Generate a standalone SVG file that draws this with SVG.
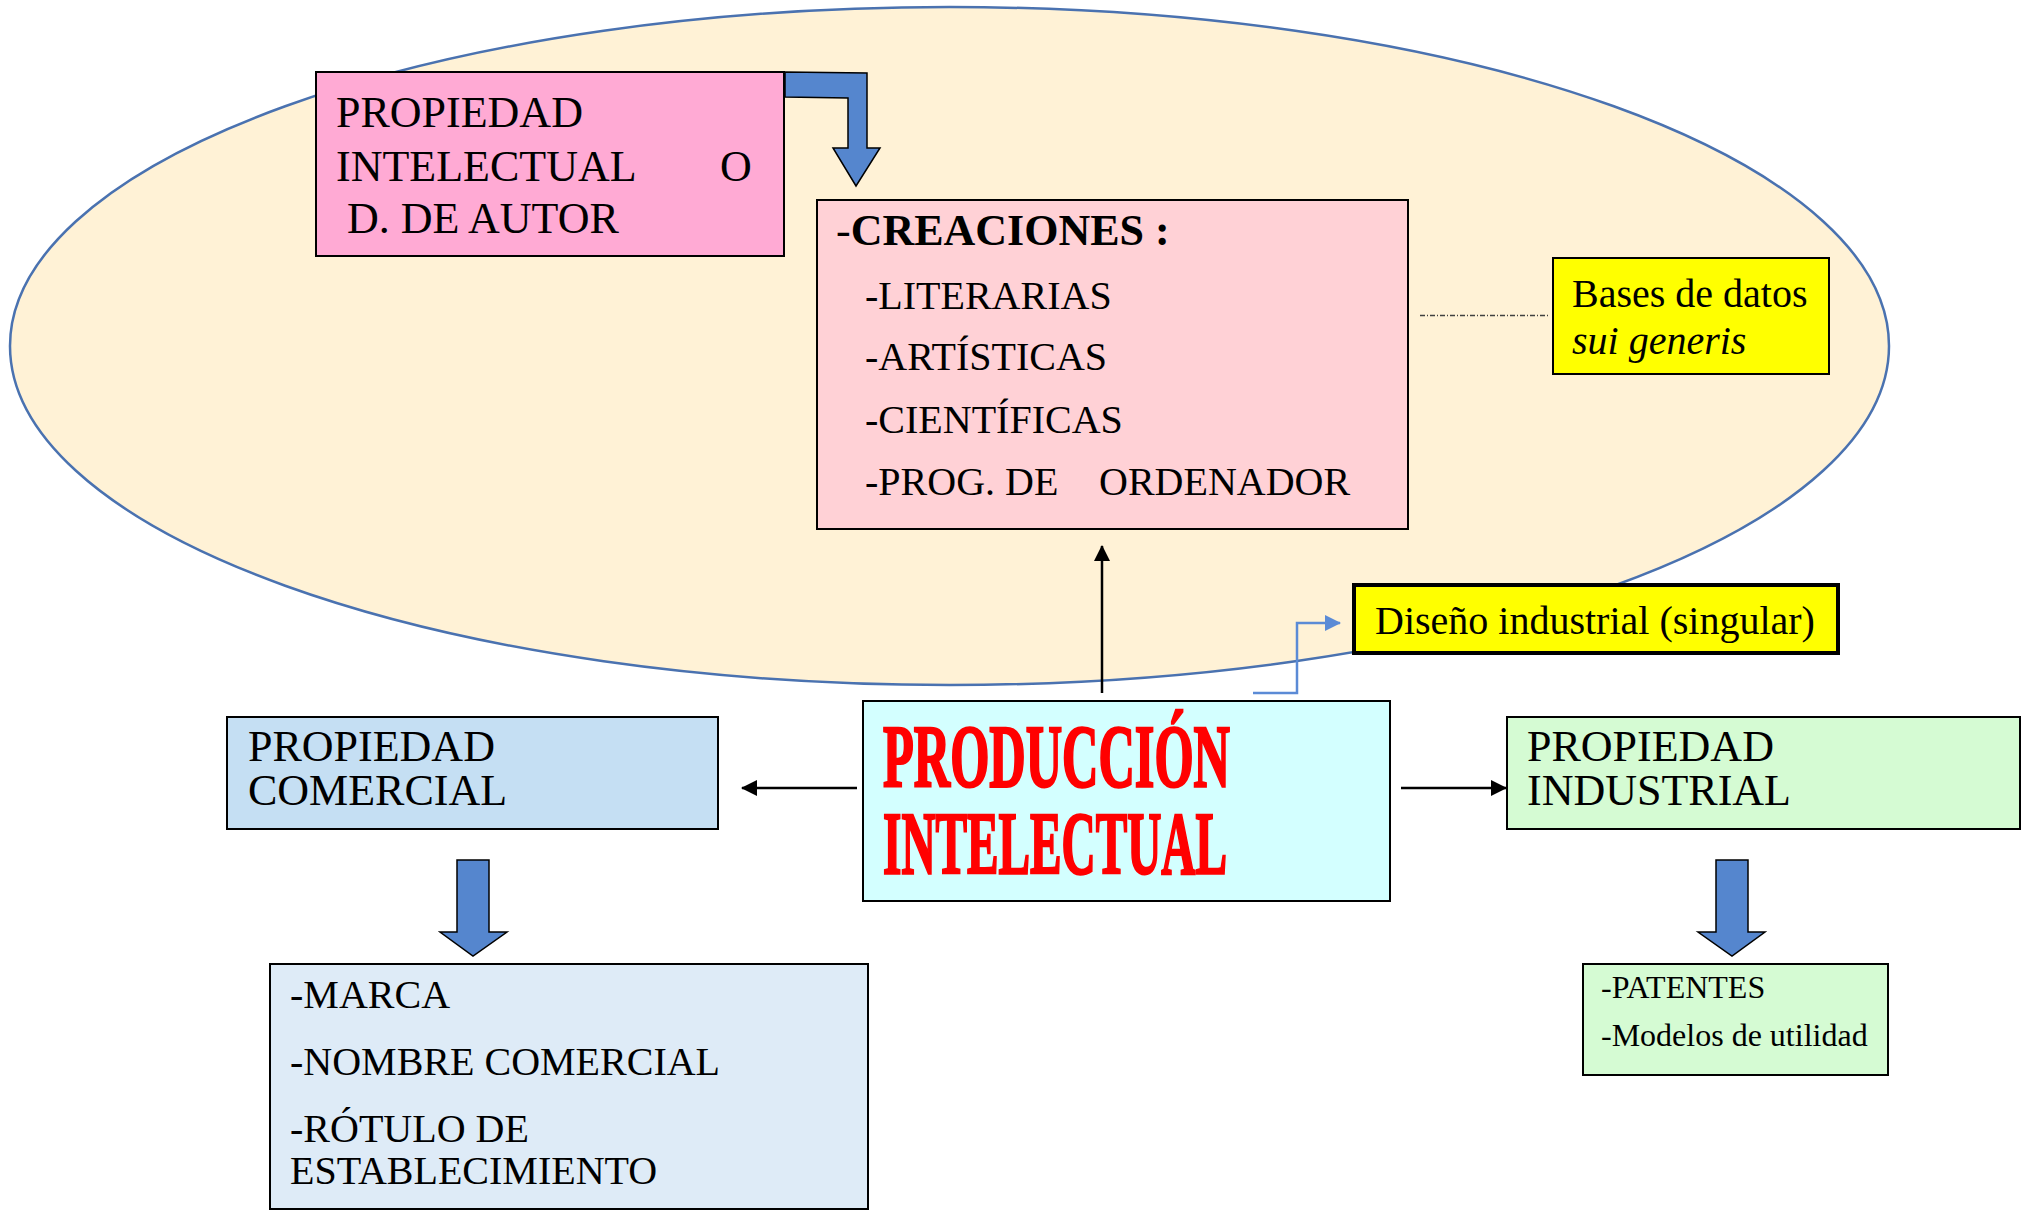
<svg xmlns="http://www.w3.org/2000/svg" width="2024" height="1211" viewBox="0 0 2024 1211">
<style>
.t{font-family:"Liberation Serif","Times New Roman",serif;fill:#000}
.box{stroke:#000;stroke-width:2}
.blk{fill:#5586CE;stroke:#000;stroke-width:1.5;stroke-linejoin:miter}
.ln{stroke:#000;stroke-width:2.5;fill:none}
.red{font-family:"Liberation Serif","Times New Roman",serif;font-weight:bold;font-size:89px;fill:#FF0000;stroke:#FF0000;stroke-width:2.5}
</style>
<defs>
<marker id="ah" markerUnits="userSpaceOnUse" markerWidth="16" markerHeight="16" viewBox="0 0 16 16" refX="15" refY="8" orient="auto">
<path d="M0,0 L16,8 L0,16 Z" fill="#000"/>
</marker>
<marker id="ahb" markerUnits="userSpaceOnUse" markerWidth="16" markerHeight="16" viewBox="0 0 16 16" refX="15" refY="8" orient="auto">
<path d="M0,0 L16,8 L0,16 Z" fill="#5B8BD6"/>
</marker>
</defs>
<rect width="2024" height="1211" fill="#fff"/>

<g id="ellipse">
<ellipse cx="949.5" cy="346" rx="939.5" ry="339" fill="#FFF2D6" stroke="#4A72B0" stroke-width="2.5"/>
</g>

<g id="connectors">
<polygon class="blk" points="785,72 867,73 867,148 880,148 856,186 833,148 848,148 848,98 785,97"/>
<line class="ln" x1="1102" y1="693" x2="1102" y2="546" marker-end="url(#ah)"/>
<polyline points="1253,693 1297,693 1297,623 1340,623" fill="none" stroke="#5B8BD6" stroke-width="2.5" marker-end="url(#ahb)"/>
<line class="ln" x1="857" y1="788" x2="742" y2="788" marker-end="url(#ah)"/>
<line class="ln" x1="1401" y1="788" x2="1506" y2="788" marker-end="url(#ah)"/>
<line x1="1420" y1="315.5" x2="1550" y2="315.5" stroke="#404040" stroke-width="1.5" stroke-dasharray="5 2 1 2"/>
<polygon class="blk" points="457,860 489,860 489,932 507,932 473,956 440,932 457,932"/>
<polygon class="blk" points="1716,860 1748,860 1748,932 1765,932 1732,956 1698,932 1716,932"/>
</g>

<g id="n-autor">
<rect class="box" x="316" y="72" width="468" height="184" fill="#FFAAD4"/>
<text class="t" font-size="44" x="336" y="127">PROPIEDAD</text>
<text class="t" font-size="44" x="336" y="181">INTELECTUAL<tspan x="720">O</tspan></text>
<text class="t" font-size="44" x="347" y="233">D. DE AUTOR</text>
</g>

<g id="n-creaciones">
<rect class="box" x="817" y="200" width="591" height="329" fill="#FFD1D6"/>
<text class="t" font-size="44" x="836" y="245">-<tspan font-weight="bold">CREACIONES :</tspan></text>
<text class="t" font-size="40" x="865" y="309">-LITERARIAS</text>
<text class="t" font-size="40" x="865" y="370">-ARTÍSTICAS</text>
<text class="t" font-size="40" x="865" y="433">-CIENTÍFICAS</text>
<text class="t" font-size="40" x="865" y="495">-PROG. DE<tspan x="1099">ORDENADOR</tspan></text>
</g>

<g id="n-bases">
<rect class="box" x="1553" y="258" width="276" height="116" fill="#FFFF00"/>
<text class="t" font-size="40" x="1572" y="307">Bases de datos</text>
<text class="t" font-size="40" font-style="italic" x="1572" y="354">sui generis</text>
</g>

<g id="n-diseno">
<rect x="1354" y="585" width="484" height="68" fill="#FFFF00" stroke="#000" stroke-width="4"/>
<text class="t" font-size="40" x="1375" y="634">Diseño industrial (singular)</text>
</g>

<g id="n-produccion">
<rect class="box" x="863" y="701" width="527" height="200" fill="#D3FFFF"/>
<text class="red" x="883" y="786" textLength="347" lengthAdjust="spacingAndGlyphs">PRODUCCIÓN</text>
<text class="red" x="883" y="873" textLength="344" lengthAdjust="spacingAndGlyphs">INTELECTUAL</text>
</g>

<g id="n-comercial">
<rect class="box" x="227" y="717" width="491" height="112" fill="#C5DFF3"/>
<text class="t" font-size="44" x="248" y="761">PROPIEDAD</text>
<text class="t" font-size="44" x="248" y="805">COMERCIAL</text>
</g>

<g id="n-marca">
<rect class="box" x="270" y="964" width="598" height="245" fill="#DEEBF7"/>
<text class="t" font-size="40" x="290" y="1008">-MARCA</text>
<text class="t" font-size="40" x="290" y="1075">-NOMBRE COMERCIAL</text>
<text class="t" font-size="40" x="290" y="1142">-RÓTULO DE</text>
<text class="t" font-size="40" x="290" y="1184">ESTABLECIMIENTO</text>
</g>

<g id="n-industrial">
<rect class="box" x="1507" y="717" width="513" height="112" fill="#D5FBD3"/>
<text class="t" font-size="44" x="1527" y="761">PROPIEDAD</text>
<text class="t" font-size="44" x="1527" y="805">INDUSTRIAL</text>
</g>

<g id="n-patentes">
<rect class="box" x="1583" y="964" width="305" height="111" fill="#D5FBD3"/>
<text class="t" font-size="32" x="1601" y="998">-PATENTES</text>
<text class="t" font-size="32" x="1601" y="1046">-Modelos de utilidad</text>
</g>
</svg>
